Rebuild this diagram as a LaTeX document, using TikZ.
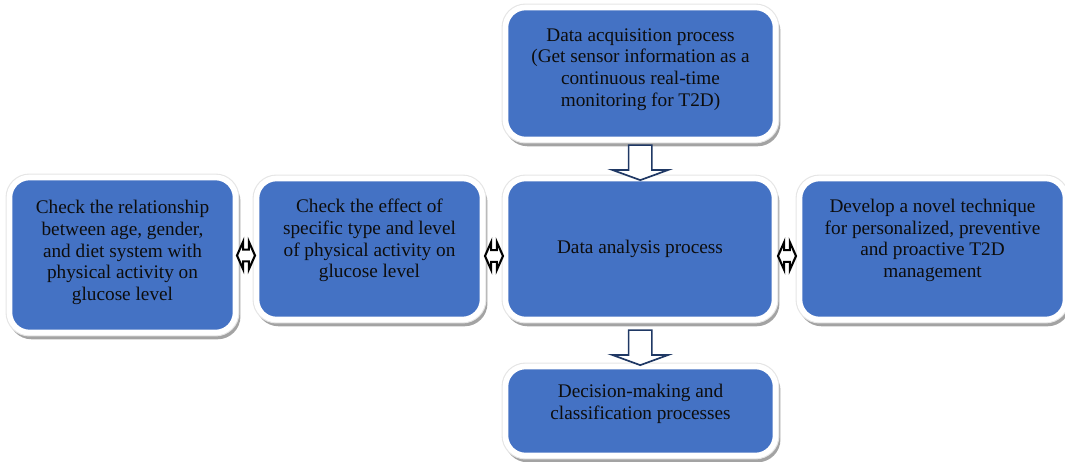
\documentclass[tikz,border=0pt]{standalone}
\usepackage{fontspec}
\setmainfont{Liberation Serif}
\usetikzlibrary{shapes.arrows,shadows,calc}
\definecolor{boxblue}{HTML}{4472C4}
\definecolor{arrownavy}{HTML}{1F3864}
\tikzset{
  procbox/.style={rectangle, rounded corners=0.5cm, fill=boxblue, draw=white, line width=4pt, inner sep=0pt,
    drop shadow={shadow xshift=1.5pt, shadow yshift=-2.8pt, fill=black!40, draw=black!40, line width=4pt, opacity=0.9},
    preaction={draw=black!10, line width=5.6pt}},
  proctext/.style={align=center, font=\fontsize{13.7}{15.4}\selectfont, text=black!95},
  downarrow/.style={single arrow, shape border rotate=270, draw=arrownavy, fill=white, line width=1.2pt,
    minimum height=0.875cm, minimum width=1.375cm, inner xsep=0.27cm, inner ysep=0pt,
    single arrow head extend=0.41cm, single arrow tip angle=140},
  twoway/.style={double arrow, draw=black, fill=white, line width=1.5pt,
    minimum height=0.45cm, minimum width=0.66cm, inner xsep=0pt, inner ysep=0.12cm,
    double arrow head extend=0.2cm, double arrow tip angle=132}
}
\begin{document}
\begin{tikzpicture}[x=0.025cm, y=-0.025cm]
	\useasboundingbox (0,0) rectangle (1065,461);
	% boxes
	\node[procbox, minimum width=6.75cm, minimum height=3.3cm] (acq) at (640.5,73.5) {};
	\node[procbox, minimum width=6.725cm, minimum height=3.525cm] (ana) at (640,249) {};
	\node[procbox, minimum width=6.75cm, minimum height=2.225cm] (dec) at (640.5,411) {};
	\node[procbox, minimum width=5.65cm, minimum height=3.875cm] (rel) at (122.5,255) {};
	\node[procbox, minimum width=5.65cm, minimum height=3.525cm] (eff) at (369.5,249) {};
	\node[procbox, minimum width=6.65cm, minimum height=3.525cm] (dev) at (932.5,249) {};
	% texts
	\node[proctext] (acqtext) at (640.5,69.5) {Data acquisition process\\(Get sensor information as a\\continuous real-time\\monitoring for T2D)};
	\node[proctext] (anatext) at (640,249) {Data analysis process};
	\node[proctext] (dectext) at (640.5,404) {Decision-making and\\classification processes};
	\node[proctext] (reltext) at (122.5,252.5) {Check the relationship\\between age, gender,\\and diet system with\\physical activity on\\glucose level};
	\node[proctext] (efftext) at (369.5,240.5) {Check the effect of\\specific type and level\\of physical activity on\\glucose level};
	\node[proctext] (devtext) at (932.5,240.5) {Develop a novel technique\\for personalized, preventive\\and proactive T2D\\management};
	% arrows
	\node[downarrow] (acqana) at ($(acq.south)!0.5!(ana.north)+(0,1.5)$) {};
	\node[downarrow] (anadec) at ($(ana.south)!0.5!(dec.north)+(0,2.5)$) {};
	\node[twoway] (releff) at ($(rel.east)!0.5!(eff.west)+(0,3.5)$) {};
	\node[twoway] (effana) at ($(eff.east)!0.5!(ana.west)+(0,7)$) {};
	\node[twoway] (anadev) at ($(ana.east)!0.5!(dev.west)+(0,7)$) {};
\end{tikzpicture}
\end{document}
